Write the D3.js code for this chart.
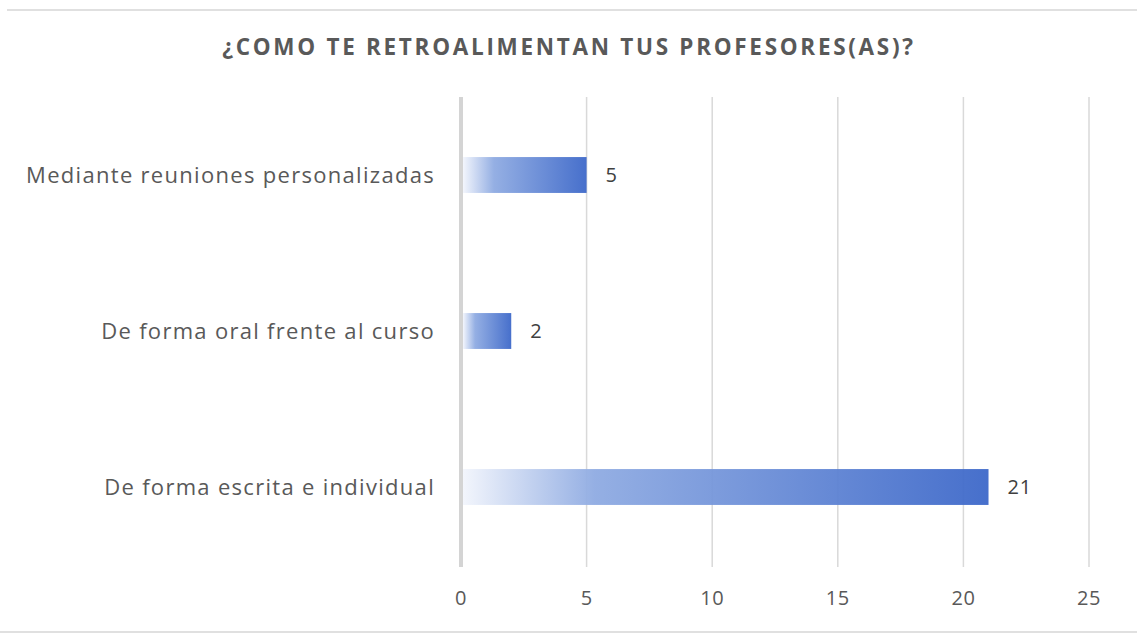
<!DOCTYPE html>
<html lang="es">
<head>
<meta charset="UTF-8">
<title>Retroalimentación</title>
<script src="https://d3js.org/d3.v7.min.js"></script>
<style>
  body { margin: 0; background: #fff; }
  svg { display: block; }
  text { font-family: "Open Sans", "Liberation Sans", sans-serif; }
</style>
</head>
<body>
<div id="chart"></div>
<script>
// data
const categories = ["Mediante reuniones personalizadas", "De forma oral frente al curso", "De forma escrita e individual"];
const values = [5, 2, 21];
const xTicks = [0, 5, 10, 15, 20, 25];
const title = "¿COMO TE RETROALIMENTAN TUS PROFESORES(AS)?";

const width = 1137, height = 633;
const margin = {top: 97, right: 48, bottom: 68, left: 461};

const svg = d3.select("#chart").append("svg")
  .attr("width", width)
  .attr("height", height);

// faint sheet borders top and bottom
svg.append("line").attr("x1", 7).attr("x2", width).attr("y1", 10).attr("y2", 10)
  .attr("stroke", "#e0e0e0").attr("stroke-width", 2);
svg.append("line").attr("x1", 0).attr("x2", width).attr("y1", 632).attr("y2", 632)
  .attr("stroke", "#e0e0e0").attr("stroke-width", 2);

const x = d3.scaleLinear().domain([0, 25]).range([margin.left, width - margin.right]);
const y = d3.scaleBand().domain(categories)
  .range([margin.top, height - margin.bottom])
  .paddingInner(0.77).paddingOuter(0.385);

// gradient per bar
const defs = svg.append("defs");
const grad = defs.append("linearGradient").attr("id", "barGrad")
  .attr("x1", "0%").attr("x2", "100%").attr("y1", "0%").attr("y2", "0%");
grad.append("stop").attr("offset", "0%").attr("stop-color", "#f2f5fc");
grad.append("stop").attr("offset", "25%").attr("stop-color", "#8fabe2");
grad.append("stop").attr("offset", "100%").attr("stop-color", "#3d68c9");

// gridlines
svg.append("g")
  .selectAll("line")
  .data(xTicks.slice(1))
  .join("line")
  .attr("x1", d => x(d)).attr("x2", d => x(d))
  .attr("y1", margin.top).attr("y2", height - margin.bottom + 2)
  .attr("stroke", "#d9d9d9").attr("stroke-width", 1.5);

// bars
svg.append("g")
  .selectAll("rect")
  .data(values)
  .join("rect")
  .attr("x", x(0) + 2)
  .attr("y", (d, i) => y(categories[i]))
  .attr("width", d => x(d) - x(0) - 2)
  .attr("height", y.bandwidth())
  .attr("fill", "url(#barGrad)")
  .attr("opacity", 0.95);

// value axis line (vertical, at 0)
svg.append("line")
  .attr("x1", x(0)).attr("x2", x(0))
  .attr("y1", margin.top).attr("y2", height - margin.bottom + 2)
  .attr("stroke", "#d4d4d4").attr("stroke-width", 4);

// value labels
svg.append("g")
  .selectAll("text")
  .data(values)
  .join("text")
  .attr("x", d => x(d) + 19)
  .attr("y", (d, i) => y(categories[i]) + y.bandwidth() / 2)
  .attr("dy", "0.36em")
  .attr("font-size", 20)
  .attr("letter-spacing", 0.8)
  .attr("fill", "#404040")
  .text(d => d);

// category labels
svg.append("g")
  .selectAll("text")
  .data(categories)
  .join("text")
  .attr("x", 435)
  .attr("y", d => y(d) + y.bandwidth() / 2)
  .attr("dy", "0.36em")
  .attr("text-anchor", "end")
  .attr("font-size", 22)
  .attr("letter-spacing", 1.3)
  .attr("fill", "#595959")
  .text(d => d);

// x tick labels
svg.append("g")
  .selectAll("text")
  .data(xTicks)
  .join("text")
  .attr("x", d => x(d))
  .attr("y", 598)
  .attr("dy", "0.36em")
  .attr("text-anchor", "middle")
  .attr("font-size", 20)
  .attr("letter-spacing", 0.5)
  .attr("fill", "#595959")
  .text(d => d);

// title
svg.append("text")
  .attr("x", 569)
  .attr("y", 47)
  .attr("dy", "0.36em")
  .attr("text-anchor", "middle")
  .attr("font-size", 22.5)
  .attr("font-weight", "bold")
  .attr("letter-spacing", 2.7)
  .attr("fill", "#595959")
  .text(title);
</script>
</body>
</html>
